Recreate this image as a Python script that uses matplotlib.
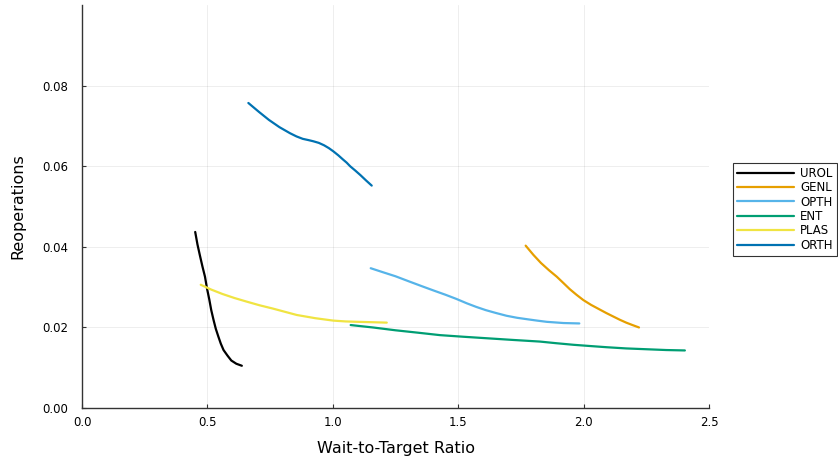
import matplotlib.pyplot as plt
import numpy as np

# ─── Data ──────────────────────────────────────────────────────────────────────
labels = ["UROL", "GENL", "OPTH", "ENT", "PLAS", "ORTH"]
colors = ["#000000", "#E69F00", "#56B4E9", "#009E73", "#F0E442", "#0072B2"]

urol_x = [0.451, 0.460, 0.470, 0.480, 0.490, 0.498, 0.507, 0.515, 0.524, 0.533, 0.543, 0.553,
          0.564, 0.580, 0.595, 0.615, 0.637]
urol_y = [0.0437, 0.0406, 0.0378, 0.0351, 0.0326, 0.0297, 0.0270, 0.0243, 0.0219, 0.0197,
          0.0178, 0.0160, 0.0144, 0.0130, 0.0118, 0.0110, 0.0105]

genl_x = [1.769, 1.800, 1.830, 1.862, 1.893, 1.920, 1.945, 1.972, 1.999, 2.030, 2.060, 2.090,
          2.119, 2.145, 2.170, 2.195, 2.221]
genl_y = [0.0403, 0.0380, 0.0360, 0.0342, 0.0326, 0.0310, 0.0295, 0.0281, 0.0268, 0.0256,
          0.0246, 0.0236, 0.0227, 0.0219, 0.0212, 0.0206, 0.0200]

opth_x = [1.151, 1.200, 1.250, 1.305, 1.361, 1.405, 1.450, 1.492, 1.534, 1.572, 1.610, 1.650,
          1.693, 1.735, 1.780, 1.815, 1.853, 1.920, 1.983]
opth_y = [0.0347, 0.0337, 0.0327, 0.0314, 0.0301, 0.0291, 0.0281, 0.0271, 0.0260, 0.0251,
          0.0243, 0.0236, 0.0229, 0.0224, 0.0220, 0.0217, 0.0214, 0.0211, 0.0210]

ent_x = [1.071, 1.160, 1.250, 1.340, 1.427, 1.520, 1.620, 1.720, 1.826, 1.890, 1.960, 2.025,
         2.092, 2.170, 2.250, 2.330, 2.404]
ent_y = [0.0206, 0.0200, 0.0193, 0.0187, 0.0181, 0.0177, 0.0173, 0.0169, 0.0165, 0.0161,
         0.0157, 0.0154, 0.0151, 0.0148, 0.0146, 0.0144, 0.0143]

plas_x = [0.473, 0.515, 0.560, 0.608, 0.657, 0.708, 0.760, 0.808, 0.856, 0.893, 0.930, 0.966,
          1.002, 1.050, 1.100, 1.160, 1.215]
plas_y = [0.0306, 0.0294, 0.0283, 0.0273, 0.0264, 0.0255, 0.0247, 0.0239, 0.0231, 0.0227,
          0.0223, 0.0220, 0.0217, 0.0215, 0.0214, 0.0213, 0.0212]

orth_x = [0.663, 0.705, 0.745, 0.787, 0.829, 0.855, 0.880, 0.902, 0.922, 0.944, 0.965, 0.984,
          1.002, 1.022, 1.040, 1.055, 1.069, 1.090, 1.110, 1.132, 1.155]
orth_y = [0.0757, 0.0735, 0.0715, 0.0697, 0.0682, 0.0674, 0.0668, 0.0665, 0.0662, 0.0658,
          0.0652, 0.0645, 0.0637, 0.0627, 0.0617, 0.0609, 0.0600, 0.0589, 0.0578, 0.0565, 0.0552]

series_x = [urol_x, genl_x, opth_x, ent_x, plas_x, orth_x]
series_y = [urol_y, genl_y, opth_y, ent_y, plas_y, orth_y]

# ─── Figure ────────────────────────────────────────────────────────────────────
fig = plt.figure(figsize=(8.38, 4.58), dpi=100)
ax = fig.add_axes([0.098, 0.109, 0.748, 0.880])

for xs, ys, lab, c in zip(series_x, series_y, labels, colors):
    ax.plot(xs, ys, color=c, lw=1.6, label=lab, solid_capstyle="round",
            solid_joinstyle="round")

ax.set_xlim(0, 2.5)
ax.set_ylim(0, 0.1)
ax.set_xticks(np.arange(0, 2.51, 0.5))
ax.set_yticks(np.arange(0, 0.081, 0.02))
ax.set_xticklabels([f"{v:.1f}" for v in np.arange(0, 2.51, 0.5)])
ax.set_yticklabels([f"{v:.2f}" for v in np.arange(0, 0.081, 0.02)])
ax.tick_params(labelsize=8.5, direction="in", length=3, width=0.8, color="#333333")
ax.tick_params(axis="y", pad=10)
ax.tick_params(axis="x", pad=6)

ax.set_xlabel("Wait-to-Target Ratio", fontsize=11.5, labelpad=8)
ax.set_ylabel("Reoperations", fontsize=11.5, labelpad=12)

ax.spines[["right", "top"]].set_visible(False)
for s in ("left", "bottom"):
    ax.spines[s].set_color("#333333")
    ax.spines[s].set_linewidth(1.0)
ax.grid(color="black", alpha=0.08, lw=0.6)
ax.set_axisbelow(True)

leg = ax.legend(loc="upper left", bbox_to_anchor=(0.875, 0.645),
                bbox_transform=fig.transFigure, fontsize=8.5,
                frameon=True, fancybox=False, handlelength=4.8,
                handletextpad=0.5, borderpad=0.35, labelspacing=0.12,
                borderaxespad=0)
leg.get_frame().set_edgecolor("black")
leg.get_frame().set_linewidth(0.8)

plt.savefig("out.png", dpi=100)
